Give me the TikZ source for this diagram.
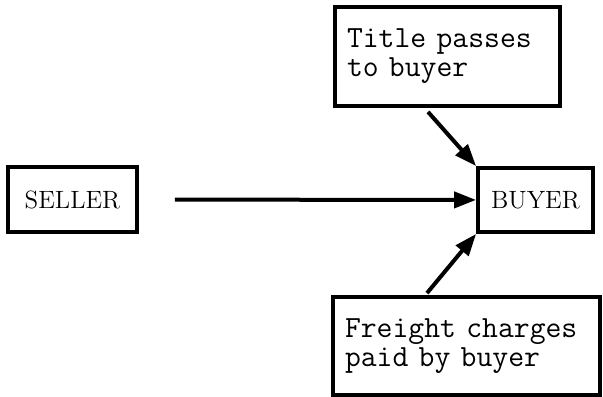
\documentclass[tikz,border=0pt]{standalone}
\usepackage{tikz}
\usetikzlibrary{arrows.meta}

\begin{document}
\begin{tikzpicture}[x=0.5pt, y=-0.5pt,
  party/.style={rectangle, draw, line width=1.9pt, font=\fontsize{12.5}{14}\selectfont, inner sep=0pt},
  note/.style={rectangle, draw, line width=1.9pt, font=\fontsize{15.4}{14.5}\ttfamily, align=left, inner xsep=6pt, inner ysep=0pt},
  arr/.style={line width=2pt, -{Triangle[length=11pt,width=8pt]}}]
\useasboundingbox (0,0) rectangle (603,396);
\node (seller) at (72.5, 199.5) [party, minimum width=64.5pt, minimum height=32.5pt] {SELLER};
\node (buyer) at (535.5, 200) [party, minimum width=57.5pt, minimum height=32pt] {BUYER};
\node (title) at (447.5, 56.5) [note, text width=100.5pt, minimum height=49.5pt] {Title passes\\to buyer};
\node (freight) at (466.5, 346) [note, text width=121.5pt, minimum height=49pt] {Freight charges\\paid by buyer};
\draw [arr, shorten <=18pt] (seller) -- (buyer);
\draw [arr] ([xshift=-9.75pt, yshift=-2pt]title.south) -- (buyer.north west);
\draw [arr] ([xshift=-19.75pt, yshift=1pt]freight.north) -- (buyer.south west);
\end{tikzpicture}
\end{document}
